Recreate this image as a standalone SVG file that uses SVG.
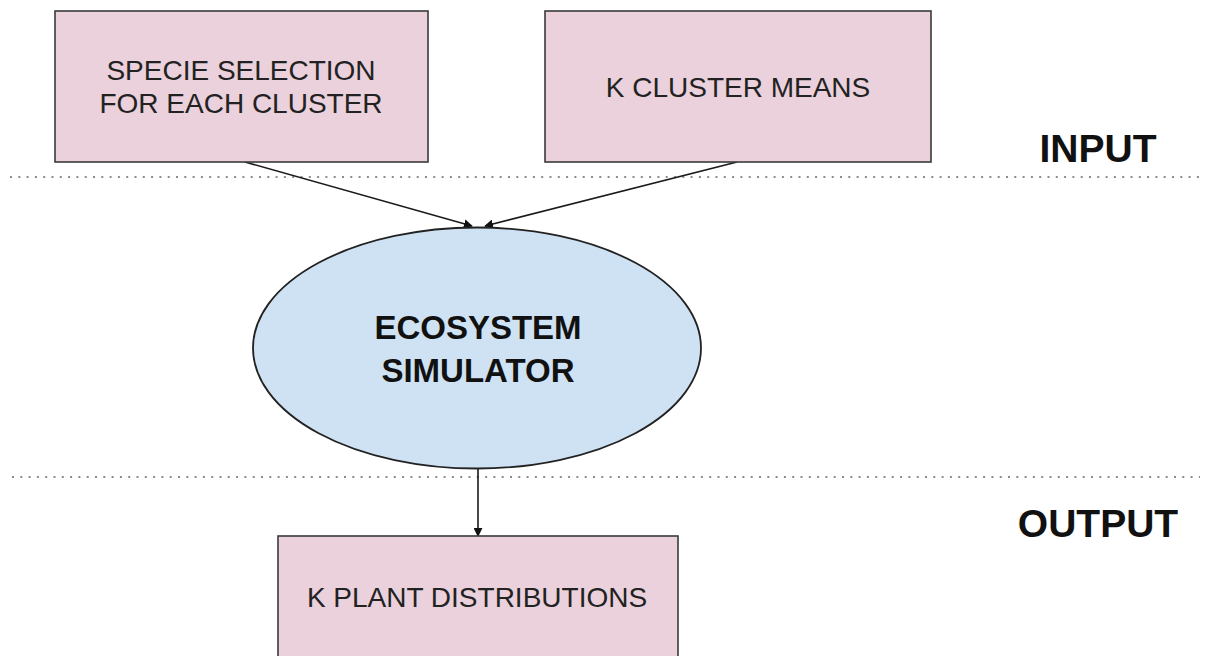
<svg xmlns="http://www.w3.org/2000/svg" width="1208" height="656" viewBox="0 0 1208 656">
  <defs>
    <marker id="arrow" viewBox="0 0 10 10" refX="9" refY="5" markerWidth="9" markerHeight="9" markerUnits="userSpaceOnUse" orient="auto">
      <path d="M0,0 L10,5 L0,10 z" fill="#111"/>
    </marker>
    <style>
      .box { fill: #ead1dc; stroke: #3a3a3a; stroke-width: 1.6; }
      .oval { fill: #cfe2f3; stroke: #222; stroke-width: 1.8; }
      .label { font-family: "Liberation Sans", Arial, sans-serif; font-size: 28px; fill: #222; text-anchor: middle; }
      .bold { font-family: "Liberation Sans", Arial, sans-serif; font-weight: bold; fill: #111; text-anchor: middle; }
      .divider { stroke: #8c8c8c; stroke-width: 2; stroke-dasharray: 2 6.3; fill: none; }
      .edge { stroke: #1a1a1a; stroke-width: 1.6; fill: none; marker-end: url(#arrow); }
    </style>
  </defs>
  <rect width="1208" height="656" fill="#ffffff"/>

  <!-- section dividers -->
  <line class="divider" x1="10" y1="177" x2="1200" y2="177"/>
  <line class="divider" x1="12" y1="477" x2="1200" y2="477"/>

  <!-- connectors -->
  <g id="connectors">
    <line class="edge" x1="245" y1="162" x2="472" y2="226"/>
    <line class="edge" x1="737" y1="162" x2="485" y2="226"/>
    <line class="edge" x1="478" y1="468" x2="478" y2="536"/>
  </g>

  <g id="species-selection">
    <rect class="box" x="55" y="11" width="373" height="151"/>
    <text class="label" x="241" y="80">SPECIE SELECTION</text>
    <text class="label" x="241" y="113">FOR EACH CLUSTER</text>
  </g>

  <g id="cluster-means">
    <rect class="box" x="545" y="11" width="386" height="151"/>
    <text class="label" x="738" y="97">K CLUSTER MEANS</text>
  </g>

  <g id="simulator">
    <ellipse class="oval" cx="477" cy="348" rx="224" ry="120.5"/>
    <text class="bold" x="478" y="339" font-size="33">ECOSYSTEM</text>
    <text class="bold" x="478" y="382" font-size="33">SIMULATOR</text>
  </g>

  <g id="plant-distributions">
    <rect class="box" x="278" y="536" width="400" height="130"/>
    <text class="label" x="477" y="607">K PLANT DISTRIBUTIONS</text>
  </g>

  <g id="input-label">
    <text class="bold" x="1098" y="162" font-size="39">INPUT</text>
  </g>
  <g id="output-label">
    <text class="bold" x="1098" y="537" font-size="39">OUTPUT</text>
  </g>
</svg>
